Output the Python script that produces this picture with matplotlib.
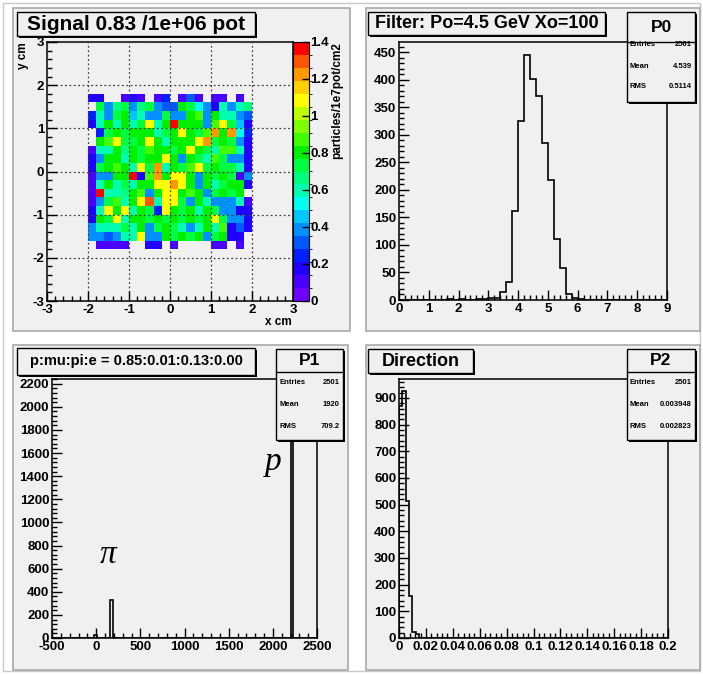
import matplotlib
matplotlib.use("Agg")
import matplotlib.pyplot as plt
import numpy as np
from matplotlib.colors import ListedColormap, BoundaryNorm
from matplotlib.patches import Rectangle
from matplotlib.lines import Line2D
from matplotlib.ticker import MultipleLocator, FuncFormatter

plt.rcParams['font.family'] = ['Liberation Sans', 'DejaVu Sans']
plt.rcParams['font.weight'] = 'bold'

# ---------------- data ----------------
# signal map: particles/1e7pot/cm2, rows from top (y=1.8) to bottom (y=-1.8), 0 = empty
signal_x_edges = np.linspace(-2, 2, 21)
signal_y_edges = np.linspace(-1.8, 1.8, 19)
signal_rows = [
    [0.20, 0.15, 0, 0, 0.12, 0.15, 0.10, 0, 0.10, 0.22, 0, 0.12, 0.28, 0.12, 0, 0.10, 0.10, 0, 0.12, 0],
    [0, 0.75, 0.38, 0.65, 0.75, 0.40, 0.65, 0.72, 0.40, 0.33, 0.30, 0.78, 0.75, 0.50, 0.40, 0.20, 0.57, 0.35, 0.57, 0.65],
    [0.25, 0.57, 0.40, 0.75, 0.78, 0.45, 0.60, 0.40, 0.40, 0.75, 0.40, 0.40, 0.78, 0.85, 0.40, 0.78, 0.57, 0.62, 0.40, 0.30],
    [0.20, 0.57, 0.78, 0.57, 0.78, 0.57, 0.72, 1.08, 0.57, 0.78, 1.38, 0.78, 0.78, 0.78, 0.40, 0.85, 1.08, 0.70, 0.45, 0.20],
    [0, 0.22, 0.72, 0.78, 0.72, 0.78, 0.80, 0.78, 0.57, 0.72, 0.78, 1.10, 0.78, 0.72, 0.90, 1.22, 0.78, 1.22, 0.50, 0.22],
    [0, 0.78, 0.90, 1.08, 0.72, 0.72, 0.78, 1.05, 0.78, 0.57, 0.78, 0.78, 0.78, 1.10, 1.22, 0.72, 0.78, 0.72, 0.40, 0.20],
    [0.12, 0.62, 0.57, 0.78, 0.65, 0.78, 0.72, 0.88, 0.78, 0.78, 0.72, 0.78, 1.08, 0.78, 0.72, 0.62, 0.85, 0.88, 0.57, 0.20],
    [0.15, 0.40, 0.78, 0.78, 0.62, 0.78, 0.72, 0.78, 0.78, 1.10, 0.78, 0.40, 0.78, 0.72, 0.57, 0.88, 0.72, 0.40, 0.40, 0.20],
    [0.18, 0.72, 0.78, 0.88, 0.78, 0.57, 1.08, 0.72, 1.22, 0.57, 0.78, 0.72, 0.88, 1.08, 0.72, 0.78, 0.72, 0.72, 0.57, 0.20],
    [0.10, 0.40, 0.40, 0.78, 0.78, 1.38, 0.18, 0.88, 1.22, 0.78, 1.10, 1.10, 0.78, 0.40, 0.78, 0.72, 0.78, 0.75, 0.10, 0.40],
    [0.10, 0.57, 0.78, 0.62, 0.72, 0.57, 0.78, 0.78, 1.10, 1.10, 1.22, 1.10, 0.78, 0.40, 0.78, 0.62, 0.72, 0.78, 0.78, 0.20],
    [0.10, 1.38, 0.57, 0.57, 0.65, 0.78, 0.88, 0.38, 0.78, 1.05, 1.08, 0.78, 0.85, 0.78, 0.40, 0.72, 0.78, 0.72, 0.78, 0],
    [0.12, 0.38, 0.72, 0.88, 0.57, 0.78, 1.10, 1.28, 0.57, 1.05, 1.05, 0.72, 0.40, 0.78, 0.57, 0.40, 0.40, 0.40, 0.57, 0.10],
    [0.20, 0.57, 1.10, 0.78, 1.10, 0.57, 0.78, 0.72, 0.22, 1.05, 0.78, 0.72, 0.78, 0.62, 0.78, 0.72, 0.40, 0.40, 0.20, 0.20],
    [0.20, 0.78, 0.72, 1.10, 0.57, 0.78, 0.78, 0.72, 0.78, 0.72, 0.78, 0.72, 0.78, 0.72, 0.78, 1.08, 0.72, 0.40, 0.40, 0.20],
    [0.38, 0.62, 0.57, 0.62, 0.72, 0.57, 0.78, 0.40, 0.72, 0.78, 0.72, 0.62, 0.40, 0.57, 0.78, 0.62, 0.85, 0.20, 0.30, 0.20],
    [0.35, 0.38, 0.30, 0.40, 0.57, 0.57, 1.05, 0.40, 0.40, 0.78, 0.72, 0.78, 0.72, 0.78, 0.40, 0.72, 0.78, 0.20, 0.20, 0],
    [0, 0.10, 0.10, 0.10, 0.10, 0, 0, 0.18, 0.18, 0, 0.10, 0, 0, 0, 0, 0.12, 0.12, 0, 0.12, 0],
]

# momentum after filter, 0.2 GeV bins from 0 to 9
p0_edges = np.linspace(0, 9, 46)
p0_counts = [0, 0, 0, 0, 0, 0, 0, 0, 1, 0, 1, 0, 0, 1, 2, 4, 4, 14, 33, 162, 326, 446,
             401, 371, 286, 219, 110, 58, 11, 4, 2, 0, 0, 0, 0, 0, 0, 0, 0, 0, 0, 0, 0, 0, 0]

# particle type histogram (mass-like code), 30-wide bins
p1_edges = np.linspace(-500, 2500, 101)
p1_peak_x = [5, 175, 2215]       # mu, pi, p
p1_peak_n = [25, 325, 2126]

# direction, 0.0025 bins from 0 to 0.2
p2_edges = np.linspace(0, 0.2, 81)
p2_counts = [869, 925, 512, 159, 21, 16, 1] + [0] * 73

# ---------------- layout helpers ----------------
W, H = 703, 674
PAD = '#f0f0f0'


def fig_rect(x0, y0, x1, y1):
    return [x0 / W, 1 - y1 / H, (x1 - x0) / W, (y1 - y0) / H]


def pave(fig, x0, y0, x1, y1, shadow=2):
    fig.add_artist(Rectangle((x0 / W + shadow / W, 1 - (y1 + shadow) / H), (x1 - x0) / W, (y1 - y0) / H,
                             transform=fig.transFigure, fc='k', ec='k', lw=0, zorder=5))
    fig.add_artist(Rectangle((x0 / W, 1 - y1 / H), (x1 - x0) / W, (y1 - y0) / H,
                             transform=fig.transFigure, fc=PAD, ec='k', lw=1, zorder=6))


def title_box(fig, text, x0, y0, x1, y1, size):
    pave(fig, x0, y0, x1, y1)
    fig.text((x0 + x1) / 2 / W, 1 - (y0 + y1) / 2 / H, text, ha='center', va='center',
             size=size, weight='bold', zorder=7)


def stats_box(fig, name, values, x0, y0, x1, y1, hdr, rows_y):
    pave(fig, x0, y0, x1, y1)
    fig.add_artist(Line2D([x0 / W, x1 / W], [1 - hdr / H] * 2, transform=fig.transFigure,
                          color='k', lw=1, zorder=7))
    fig.text((x0 + x1) / 2 / W, 1 - (y0 + hdr) / 2 / H, name, ha='center', va='center',
             size=12.5, weight='bold', zorder=7)
    for lab, val, y in zip(['Entries', 'Mean', 'RMS'], values, rows_y):
        fig.text((x0 + 3) / W, 1 - y / H, lab, ha='left', va='center', size=5.5, zorder=7)
        fig.text((x1 - 3) / W, 1 - y / H, val, ha='right', va='center', size=5.5, zorder=7)


fmt = FuncFormatter(lambda v, p: f'{round(v, 6):g}'.replace('-0', '-0') if abs(v) > 1e-12 else '0')


def style(ax, xmaj, xmin, ymaj, ymin):
    ax.set_facecolor(PAD)
    ax.xaxis.set_major_locator(MultipleLocator(xmaj))
    ax.xaxis.set_minor_locator(MultipleLocator(xmin))
    ax.yaxis.set_major_locator(MultipleLocator(ymaj))
    ax.yaxis.set_minor_locator(MultipleLocator(ymin))
    ax.xaxis.set_major_formatter(fmt)
    ax.yaxis.set_major_formatter(fmt)
    ax.tick_params(which='both', direction='in', top=False, right=False, width=1,
                   labelsize=9.5, pad=2)
    ax.tick_params(which='major', length=7)
    ax.tick_params(which='minor', length=3.5)
    for s in ax.spines.values():
        s.set_linewidth(1.1)


fig = plt.figure(figsize=(W / 100, H / 100), dpi=100)
fig.patch.set_facecolor('white')

# canvas border and pads
fig.add_artist(Rectangle((3 / W, 3 / H), (W - 6) / W, (H - 6) / H, transform=fig.transFigure,
                         fc='none', ec='#c8c8c8', lw=1, zorder=-2))
for (x0, y0, x1, y1) in [(13, 8, 350, 331), (366, 8, 700, 331), (13, 345, 348, 670), (366, 345, 700, 670)]:
    fig.add_artist(Rectangle((x0 / W, 1 - y1 / H), (x1 - x0) / W, (y1 - y0) / H,
                             transform=fig.transFigure, fc=PAD, ec='#a8a8a8', lw=1.2, zorder=-1))

# ---------------- top left: signal map ----------------
ax1 = fig.add_axes(fig_rect(47, 42, 293, 301))
style(ax1, 1, 0.2, 1, 0.2)
colors = ['#7000ff', '#4a00ff', '#2000ff', '#0020ff', '#0058ff', '#0090ff', '#00c8ff', '#00ffee',
          '#00ffb0', '#00ff80', '#00ff40', '#00f000', '#40ff00', '#80ff00', '#c0ff00', '#ffff00',
          '#ffd000', '#ff9900', '#ff5500', '#ff0000']
cmap = ListedColormap(colors)
norm = BoundaryNorm(np.linspace(0, 1.4, 21), cmap.N)
z = np.ma.masked_equal(np.array(signal_rows)[::-1], 0)
mesh = ax1.pcolormesh(signal_x_edges, signal_y_edges, z, cmap=cmap, norm=norm)
ax1.set_xlim(-3, 3)
ax1.set_ylim(-3, 3)
ax1.set_axisbelow(False)
ax1.grid(True, which='major', linestyle=(0, (1.5, 2)), color='#444444', lw=0.9)

cax = fig.add_axes(fig_rect(293, 42, 309, 301))
cb = fig.colorbar(mesh, cax=cax, ticks=np.arange(0, 1.41, 0.2))
cb.outline.set_linewidth(0.8)
cax.yaxis.set_major_formatter(fmt)
cax.tick_params(direction='in', right=True, left=False, labelright=True, length=5, width=1,
                labelsize=9.5, pad=1)
fig.text(337 / W, 1 - 42 / H, 'particles/1e7pot/cm2', rotation=90, ha='center', va='top',
         size=8.5, weight='bold')
fig.text(292 / W, 1 - 322 / H, 'x cm', ha='right', va='center', size=8.5, weight='bold')
fig.text(23 / W, 1 - 42 / H, 'y cm', rotation=90, ha='center', va='top', size=8.5, weight='bold')
title_box(fig, 'Signal 0.83 /1e+06 pot', 17, 12, 255, 36, 15)

# ---------------- top right: momentum ----------------
ax2 = fig.add_axes(fig_rect(399, 42, 667, 300))
style(ax2, 1, 0.2, 50, 10)
ax2.stairs(p0_counts, p0_edges, color='k', lw=1.2)
ax2.set_xlim(0, 9)
ax2.set_ylim(0, 469)
title_box(fig, 'Filter: Po=4.5 GeV Xo=100', 368, 12, 605, 35, 13)
stats_box(fig, 'P0', ['2501', '4.539', '0.5114'], 627, 12, 695, 102, 42, [45, 66, 87])

# ---------------- bottom left: particle type ----------------
ax3 = fig.add_axes(fig_rect(52, 379, 317, 638))
style(ax3, 500, 100, 200, 40)
p1_counts, _ = np.histogram(p1_peak_x, bins=p1_edges, weights=p1_peak_n)
ax3.stairs(p1_counts, p1_edges, color='k', lw=1.2)
ax3.set_xlim(-500, 2500)
ax3.set_ylim(0, 2240)
ax3.text(134, 718, 'π', family='Liberation Serif', style='italic', weight='normal', size=24,
         ha='center', va='center')
ax3.text(2003, 1522, 'p', family='Liberation Serif', style='italic', weight='normal', size=24,
         ha='center', va='center')
title_box(fig, 'p:mu:pi:e = 0.85:0.01:0.13:0.00', 17, 348, 255, 375, 10.5)
stats_box(fig, 'P1', ['2501', '1920', '709.2'], 276, 349, 343, 440, 372, [383, 405, 427])

# ---------------- bottom right: direction ----------------
ax4 = fig.add_axes(fig_rect(399, 379, 668, 638))
style(ax4, 0.02, 0.004, 100, 20)
ax4.stairs(p2_counts, p2_edges, color='k', lw=1.2)
ax4.set_xlim(0, 0.2)
ax4.set_ylim(0, 971)
title_box(fig, 'Direction', 368, 349, 473, 373, 13)
stats_box(fig, 'P2', ['2501', '0.003948', '0.002823'], 627, 349, 695, 440, 372, [383, 405, 427])

fig.savefig('out.png', dpi=100, facecolor=fig.get_facecolor())
